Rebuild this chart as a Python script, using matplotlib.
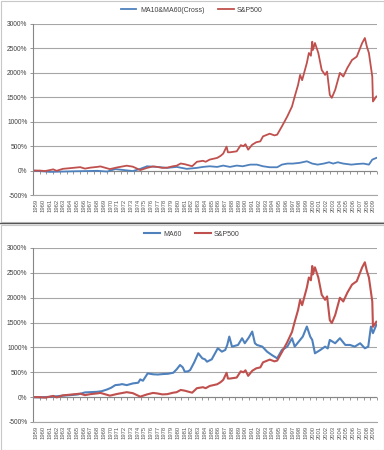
import matplotlib
matplotlib.use("Agg")
import matplotlib.pyplot as plt
from matplotlib.patches import Rectangle
from matplotlib.ticker import FuncFormatter

plt.rcParams['font.family'] = ['Liberation Sans', 'DejaVu Sans']

# ---------------- data ----------------
years = list(range(1959, 2010))

sp_x = [1959.0, 1960.0, 1960.8, 1961.5, 1962.0, 1962.5, 1963.4, 1964.9, 1966.0, 1966.7,
        1967.5, 1968.5, 1969.0, 1970.4, 1971.5, 1972.9, 1973.8, 1974.9, 1975.9, 1976.8,
        1977.4, 1978.2, 1978.9, 1979.8, 1980.3, 1980.9, 1981.5, 1982.3, 1982.6, 1983.3,
        1984.2, 1984.6, 1985.2, 1986.3, 1986.8, 1987.2, 1987.7, 1987.9, 1988.2, 1989.2,
        1989.8, 1990.2, 1990.5, 1990.9, 1991.5, 1992.1, 1992.7, 1993.1, 1994.1, 1994.8,
        1995.2, 1995.9, 1996.7, 1997.4, 1997.8, 1998.3, 1998.6, 1998.9, 1999.6, 1999.9,
        2000.2, 2000.4, 2000.5, 2000.8, 2001.3, 2001.8, 2002.3, 2002.6, 2003.0, 2003.3,
        2003.8, 2004.5, 2005.0, 2005.6, 2006.3, 2007.0, 2007.8, 2008.2, 2008.5, 2008.8,
        2009.3, 2009.4, 2009.9]
sp_y = [0, 0, -10, 10, 25, -5, 35, 55, 70, 40,
        60, 75, 85, 30, 65, 100, 80, 10, 55, 85,
        75, 55, 60, 90, 100, 145, 130, 100, 90, 180,
        200, 180, 225, 259, 300, 347, 490, 374, 374, 394,
        520, 500, 540, 428, 530, 580, 598, 700, 755, 720,
        735, 904, 1108, 1312, 1516, 1754, 1958, 1850, 2203, 2407,
        2350, 2638, 2468, 2611, 2407, 2060, 1958, 2026, 1550, 1489,
        1652, 2000, 1924, 2101, 2264, 2332, 2611, 2713, 2536, 2407,
        1924, 1414, 1516]

cross_x = [1959.0, 1960.0, 1961.5, 1963.4, 1965.0, 1967.0, 1968.5, 1970.0, 1971.2, 1972.5,
           1973.8, 1974.9, 1975.9, 1977.4, 1978.9, 1980.3, 1981.8, 1983.3, 1984.2, 1985.2,
           1986.3, 1987.2, 1988.2, 1989.2, 1990.1, 1991.2, 1992.2, 1993.1, 1994.1, 1995.2,
           1995.9, 1996.7, 1997.5, 1998.5, 1999.6, 2000.4, 2001.2, 2002.1, 2002.9, 2003.5,
           2004.2, 2005.0, 2006.2, 2007.2, 2008.0, 2008.8, 2009.3, 2009.9]
cross_y = [0, -10, -27, -20, -15, -10, -5, -20, 30, 10,
           -10, 35, 88, 75, 55, 75, 35, 55, 75, 88,
           75, 102, 75, 102, 88, 122, 122, 88, 68, 68,
           122, 143, 143, 157, 190, 143, 122, 143, 170, 143,
           170, 143, 122, 136, 143, 122, 224, 259]

ma60_x = [1959.0, 1960.0, 1961.5, 1962.7, 1963.4, 1964.5, 1965.7, 1966.7, 1967.5, 1968.5,
          1969.2, 1970.0, 1970.6, 1971.2, 1971.8, 1972.2, 1972.9, 1973.8, 1974.6, 1974.9,
          1975.3, 1976.0, 1976.8, 1977.5, 1978.3, 1979.0, 1979.8, 1980.3, 1980.8, 1981.2,
          1981.5, 1982.0, 1982.3, 1982.9, 1983.5, 1984.1, 1984.5, 1984.8, 1985.5, 1986.4,
          1987.0, 1987.5, 1987.8, 1988.1, 1988.5, 1989.4, 1990.0, 1990.4, 1991.0, 1991.5,
          1991.9, 1992.2, 1993.0, 1993.7, 1994.4, 1995.2, 1995.9, 1996.7, 1997.4, 1997.8,
          1998.6, 1999.0, 1999.6, 2000.1, 2000.4, 2000.8, 2001.6, 2002.3, 2002.7, 2003.0,
          2003.8, 2004.5, 2005.3, 2006.0, 2006.7, 2007.5, 2008.2, 2008.7, 2009.1, 2009.4,
          2009.9]
ma60_y = [0, -5, 6, 20, 30, 40, 55, 95, 100, 107,
          120, 155, 190, 242, 250, 262, 242, 276, 290, 357,
          330, 478, 460, 455, 465, 470, 491, 560, 646, 600,
          511, 520, 545, 700, 882, 781, 760, 713, 761, 983,
          915, 949, 1050, 1218, 1016, 1050, 1185, 1084, 1200, 1319,
          1084, 1050, 1016, 915, 848, 781, 949, 1016, 1185, 1016,
          1151, 1218, 1420, 1218, 1150, 882, 949, 1016, 980, 1151,
          1084, 1185, 1050, 1050, 1016, 1084, 983, 1016, 1420, 1287,
          1454]

y_ticks = [-500, 0, 500, 1000, 1500, 2000, 2500, 3000]

BLUE = '#4F81BD'
RED = '#C0504D'
GRID = '#A6A6A6'
TXT = '#404040'

W, H = 384, 450
fig = plt.figure(figsize=(W / 100, H / 100), dpi=100)

# chart area frames
fig.add_artist(Rectangle((0.5 / W, 1 - 222 / H), (W - 1) / W, 221.5 / H,
                         transform=fig.transFigure, fill=False, ec='#C8C8C8', lw=0.8))
fig.add_artist(Rectangle((0.5 / W, 0.5 / H), (W - 1) / W, 225 / H,
                         transform=fig.transFigure, fill=False, ec='#C8C8C8', lw=0.8))
fig.add_artist(plt.Line2D([0, 1], [1 - 223 / H, 1 - 223 / H], transform=fig.transFigure,
                          color='#555555', lw=1.0))


def make_axes(top_px, bot_px, series, legend_y_px, lw):
    left = 33 / W
    right = 377 / W
    ax = fig.add_axes([left, 1 - bot_px / H, right - left, (bot_px - top_px) / H])
    ax.set_xlim(1959, 2010)
    ax.set_ylim(-500, 3000)
    ax.set_yticks(y_ticks)
    ax.yaxis.set_major_formatter(FuncFormatter(lambda v, p: f"{int(v)}%"))
    ax.grid(axis='y', color=GRID, lw=0.8)
    ax.set_axisbelow(True)
    for s in ['top', 'right']:
        ax.spines[s].set_visible(False)
    ax.spines['left'].set_color('#868686')
    ax.spines['left'].set_linewidth(0.8)
    ax.spines['bottom'].set_color(GRID)
    ax.spines['bottom'].set_linewidth(0.8)
    ax.tick_params(axis='y', length=2.5, width=0.6, color='#868686', labelsize=4.8,
                   labelcolor=TXT, pad=1.5)
    ax.set_xticks([y + 0.5 for y in years])
    ax.set_xticklabels([str(y) for y in years], rotation=90, fontsize=4.2, color='#595959')
    ax.tick_params(axis='x', length=0, pad=3)
    # category axis at 0 with tick marks
    ax.axhline(0, color='#868686', lw=0.8, zorder=1)
    sec = ax.secondary_xaxis(500 / 3500)
    sec.set_xticks(years + [2010])
    sec.set_xticklabels([])
    sec.tick_params(axis='x', length=2.5, width=0.6, color='#868686', direction='out')
    sec.spines['bottom'].set_visible(False)
    handles = []
    for (xs, ys, col, lab) in series:
        h, = ax.plot(xs, ys, color=col, lw=lw, label=lab, solid_joinstyle='round')
        handles.append(h)
    leg = fig.legend(handles=handles, loc='center', bbox_to_anchor=(0.5, 1 - legend_y_px / H),
                     ncol=2, frameon=False, fontsize=5, handlelength=2.2, handletextpad=0.5,
                     columnspacing=2.0)
    for t in leg.get_texts():
        t.set_color(TXT)
    return ax


make_axes(24, 195, [(cross_x, cross_y, BLUE, 'MA10&MA60(Cross)'),
                    (sp_x, sp_y, RED, 'S&P500')], 10, 1.3)
make_axes(248, 422, [(ma60_x, ma60_y, BLUE, 'MA60'),
                     (sp_x, sp_y, RED, 'S&P500')], 234, 1.5)

fig.savefig('out.png', dpi=100)
